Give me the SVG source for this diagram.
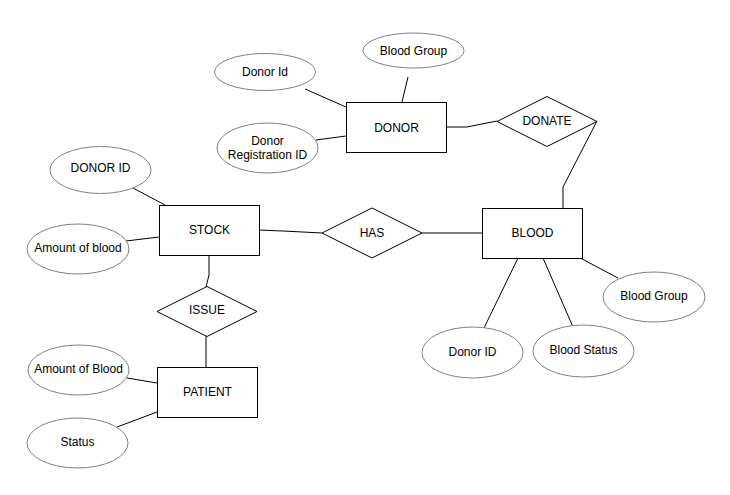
<svg xmlns="http://www.w3.org/2000/svg" width="730" height="495" viewBox="0 0 730 495">
<style>
.ent{fill:#fff;stroke:#000;stroke-width:1}
.rel{fill:#fff;stroke:#000;stroke-width:1}
.att{fill:#fff;stroke:#808080;stroke-width:1}
.lbl{font-family:"Liberation Sans",Arial,sans-serif;font-size:12px;fill:#000;text-anchor:middle;dominant-baseline:central}
.con{fill:none;stroke:#000;stroke-width:1}
</style>
<rect width="730" height="495" fill="#fff"/>
<g id="connectors">
<polyline class="con" points="305,89 346,107"/>
<polyline class="con" points="408,77 402,102"/>
<polyline class="con" points="316,140 346,136"/>
<polyline class="con" points="447,127 467,127 497,121"/>
<polyline class="con" points="597,121 563,187 563,208"/>
<polyline class="con" points="133,188 165,205"/>
<polyline class="con" points="126,241 159,237"/>
<polyline class="con" points="209,255 209,275 206,287"/>
<polyline class="con" points="206,336 206,368"/>
<polyline class="con" points="127,378 157,383"/>
<polyline class="con" points="117,427 157,412"/>
<polyline class="con" points="259,230 283,231 322,233"/>
<polyline class="con" points="422,233 447,233 482,233"/>
<polyline class="con" points="518,258 484,328"/>
<polyline class="con" points="543,258 573,327"/>
<polyline class="con" points="582,259 618,278"/>
</g>
<g id="donor"><rect class="ent" x="346.5" y="102.5" width="100" height="50"/><text class="lbl" x="396.5" y="127.5">DONOR</text></g>
<g id="donor-id"><ellipse class="att" cx="265" cy="72" rx="50.5" ry="18.5"/><text class="lbl" x="265" y="72">Donor Id</text></g>
<g id="donor-blood-group"><ellipse class="att" cx="413.5" cy="50.5" rx="50.5" ry="17.5"/><text class="lbl" x="413.5" y="50.5">Blood Group</text></g>
<g id="donor-reg-id"><ellipse class="att" cx="267.5" cy="148" rx="50.5" ry="25"/><text class="lbl" x="267.5" y="141">Donor</text><text class="lbl" x="267.5" y="155">Registration ID</text></g>
<g id="donate"><polygon class="rel" points="497,121.5 547,96.5 597,121.5 547,146.5"/><text class="lbl" x="547" y="120.5">DONATE</text></g>
<g id="stock"><rect class="ent" x="159.5" y="205.5" width="100" height="50"/><text class="lbl" x="209.5" y="229.5">STOCK</text></g>
<g id="stock-donor-id"><ellipse class="att" cx="100.5" cy="170" rx="50.5" ry="23.5"/><text class="lbl" x="100.5" y="168">DONOR ID</text></g>
<g id="stock-amount"><ellipse class="att" cx="78" cy="249" rx="51" ry="25"/><text class="lbl" x="78" y="248">Amount of blood</text></g>
<g id="has"><polygon class="rel" points="322,233 372,208 422,233 372,258"/><text class="lbl" x="372" y="233">HAS</text></g>
<g id="blood"><rect class="ent" x="482.5" y="208.5" width="100" height="50"/><text class="lbl" x="532.5" y="233">BLOOD</text></g>
<g id="blood-group"><ellipse class="att" cx="654" cy="297" rx="51" ry="25"/><text class="lbl" x="654" y="296">Blood Group</text></g>
<g id="blood-donor-id"><ellipse class="att" cx="472.5" cy="352.5" rx="50.5" ry="25.5"/><text class="lbl" x="472.5" y="352">Donor ID</text></g>
<g id="blood-status"><ellipse class="att" cx="583.5" cy="351" rx="50.5" ry="26"/><text class="lbl" x="583.5" y="350">Blood Status</text></g>
<g id="issue"><polygon class="rel" points="157,311.5 207,286.5 257,311.5 207,336.5"/><text class="lbl" x="207" y="310">ISSUE</text></g>
<g id="patient"><rect class="ent" x="157.5" y="367.5" width="100" height="50"/><text class="lbl" x="207.5" y="391.5">PATIENT</text></g>
<g id="patient-amount"><ellipse class="att" cx="78.5" cy="370" rx="50.5" ry="25"/><text class="lbl" x="78.5" y="369">Amount of Blood</text></g>
<g id="patient-status"><ellipse class="att" cx="77.5" cy="443" rx="50.5" ry="25"/><text class="lbl" x="77.5" y="442">Status</text></g>
</svg>
